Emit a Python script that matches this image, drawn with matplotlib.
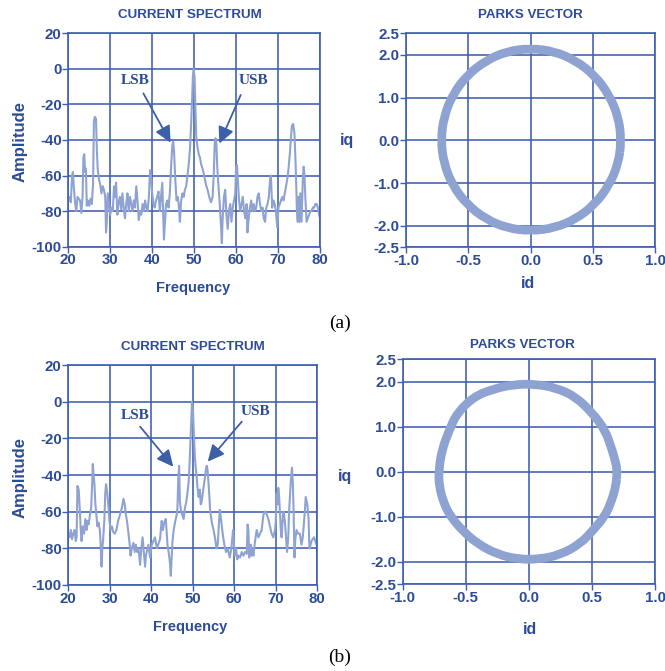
import matplotlib
matplotlib.use("Agg")
import matplotlib.pyplot as plt
from matplotlib.path import Path
from matplotlib.patches import PathPatch

# ---------------- data ----------------
freq_a = [20.0, 20.3, 20.6, 20.9, 21.1, 21.3, 21.6, 21.9, 22.2, 22.5, 22.8, 23.1, 23.4, 23.6, 23.8, 24.0,
          24.2, 24.4, 24.7, 25.0, 25.3, 25.6, 25.9, 26.1, 26.3, 26.6, 26.8, 27.0, 27.3, 27.6, 27.9, 28.2,
          28.5, 28.8, 29.0, 29.2, 29.4, 29.7, 30.0, 30.3, 30.6, 30.9, 31.1, 31.4, 31.7, 32.0, 32.3, 32.6,
          32.9, 33.2, 33.5, 33.8, 34.1, 34.4, 34.7, 35.0, 35.3, 35.6, 35.9, 36.2, 36.5, 36.8, 37.1, 37.4,
          37.7, 38.0, 38.3, 38.6, 38.9, 39.2, 39.5, 39.7, 40.0, 40.3, 40.6, 40.9, 41.2, 41.5, 41.8, 42.1,
          42.4, 42.6, 42.8, 43.0, 43.3, 43.6, 43.9, 44.2, 44.5, 44.8, 45.0, 45.2, 45.5, 45.8, 46.1, 46.4,
          46.6, 46.9, 47.2, 47.5, 47.8, 48.1, 48.4, 48.7, 49.0, 49.3, 49.5, 49.7, 49.9, 50.1, 50.3, 50.5,
          50.8, 51.1, 51.4, 51.7, 52.0, 52.4, 52.8, 53.2, 53.6, 54.0, 54.4, 54.7, 54.9, 55.1, 55.3, 55.5,
          55.8, 56.1, 56.4, 56.6, 56.8, 57.1, 57.4, 57.7, 58.0, 58.3, 58.6, 58.9, 59.2, 59.5, 59.8, 60.0,
          60.2, 60.4, 60.7, 61.0, 61.3, 61.6, 61.9, 62.2, 62.5, 62.7, 63.0, 63.3, 63.6, 63.9, 64.2, 64.5,
          64.8, 65.1, 65.4, 65.7, 66.0, 66.3, 66.6, 66.9, 67.2, 67.5, 67.8, 68.1, 68.3, 68.6, 68.9, 69.2,
          69.5, 69.8, 70.1, 70.4, 70.7, 71.0, 71.3, 71.6, 71.9, 72.2, 72.5, 72.8, 73.1, 73.3, 73.6, 73.9,
          74.1, 74.3, 74.5, 74.7, 74.9, 75.1, 75.3, 75.6, 75.9, 76.1, 76.3, 76.5, 76.8, 77.1, 77.4, 77.7,
          78.0, 78.3, 78.6, 78.9, 79.2, 79.5, 79.8, 80.0]
amp_a = [-74, -72, -75, -60, -58, -66, -75, -80, -72, -73, -74, -81, -72, -50, -48, -58,
         -56, -77, -74, -77, -73, -76, -65, -30, -27, -28, -45, -56, -62, -65, -70, -66,
         -68, -72, -92, -85, -70, -76, -82, -78, -80, -66, -72, -64, -82, -75, -72, -79,
         -70, -78, -84, -76, -70, -80, -72, -76, -80, -74, -78, -66, -74, -85, -80, -82,
         -76, -80, -74, -78, -80, -72, -57, -60, -70, -76, -78, -74, -72, -69, -80, -72,
         -64, -80, -96, -88, -76, -74, -78, -70, -55, -43, -41, -46, -62, -74, -72, -78,
         -86, -74, -70, -72, -68, -66, -60, -54, -45, -30, -18, -4, 0, -5, -22, -38,
         -44, -48, -50, -54, -56, -60, -65, -68, -72, -75, -72, -58, -42, -39, -42, -55,
         -66, -76, -88, -98, -84, -72, -68, -82, -90, -80, -76, -86, -78, -74, -70, -55,
         -54, -62, -74, -80, -76, -72, -80, -84, -76, -92, -84, -78, -74, -80, -76, -80,
         -78, -72, -70, -76, -80, -78, -84, -86, -78, -76, -72, -62, -60, -78, -74, -76,
         -80, -89, -78, -76, -74, -72, -74, -70, -66, -62, -56, -48, -38, -32, -31, -36,
         -48, -62, -80, -86, -72, -86, -70, -86, -62, -55, -60, -72, -86, -84, -82, -80,
         -80, -78, -78, -76, -76, -78, -82, -84]

freq_b = [20.0, 20.3, 20.6, 20.9, 21.2, 21.5, 21.8, 22.0, 22.2, 22.5, 22.8, 23.0, 23.2, 23.5, 23.8, 24.1,
          24.4, 24.6, 24.9, 25.2, 25.5, 25.7, 25.9, 26.1, 26.3, 26.5, 26.7, 27.0, 27.3, 27.6, 27.8, 28.0,
          28.2, 28.4, 28.7, 28.9, 29.1, 29.4, 29.7, 29.9, 30.2, 30.5, 30.8, 31.2, 31.6, 32.0, 32.4, 32.9,
          33.3, 33.6, 33.9, 34.2, 34.5, 34.8, 35.0, 35.3, 35.7, 36.0, 36.3, 36.6, 36.9, 37.1, 37.3, 37.6,
          37.9, 38.2, 38.5, 38.7, 38.9, 39.3, 39.7, 40.1, 40.5, 40.9, 41.2, 41.4, 41.8, 42.1, 42.5, 42.8,
          43.1, 43.5, 43.9, 44.3, 44.5, 44.7, 44.9, 45.1, 45.4, 45.7, 46.1, 46.3, 46.5, 46.7, 46.9, 47.2,
          47.5, 47.8, 48.1, 48.4, 48.7, 49.0, 49.2, 49.4, 49.6, 49.8, 50.0, 50.1, 50.3, 50.5, 50.7, 50.9,
          51.1, 51.4, 51.7, 51.9, 52.1, 52.4, 52.7, 53.0, 53.2, 53.4, 53.6, 53.8, 54.0, 54.2, 54.6, 55.0,
          55.4, 55.7, 56.0, 56.3, 56.5, 56.8, 57.2, 57.6, 58.0, 58.4, 58.9, 59.3, 59.7, 60.1, 60.4, 60.7,
          61.0, 61.4, 61.8, 62.2, 62.6, 63.0, 63.2, 63.4, 63.6, 63.8, 64.0, 64.2, 64.4, 64.6, 65.0, 65.4,
          65.8, 66.2, 66.6, 67.0, 67.3, 67.6, 67.9, 68.2, 68.6, 69.0, 69.4, 69.8, 70.0, 70.2, 70.4, 70.6,
          70.8, 71.0, 71.2, 71.4, 71.6, 71.8, 72.0, 72.2, 72.5, 72.7, 73.0, 73.2, 73.4, 73.6, 73.9, 74.1,
          74.3, 74.5, 74.7, 75.0, 75.4, 75.8, 76.2, 76.5, 76.8, 77.0, 77.2, 77.4, 77.6, 77.9, 78.1, 78.4,
          78.6, 78.9, 79.2, 79.5, 79.8, 80.0]
amp_b = [-72, -74, -70, -75, -72, -70, -76, -74, -46, -48, -60, -70, -76, -68, -72, -64,
         -70, -65, -67, -62, -58, -48, -34, -40, -45, -55, -60, -68, -66, -70, -78, -90,
         -80, -75, -64, -50, -45, -50, -58, -65, -70, -68, -71, -72, -70, -65, -62, -58,
         -53, -56, -62, -66, -72, -78, -84, -80, -77, -82, -78, -82, -80, -84, -89, -80,
         -74, -82, -90, -84, -82, -78, -85, -78, -76, -74, -78, -80, -77, -75, -65, -70,
         -66, -64, -78, -84, -88, -95, -86, -76, -70, -66, -62, -58, -42, -35, -55, -60,
         -62, -64, -58, -55, -50, -44, -35, -24, -12, 0, -4, -8, -20, -30, -36, -40,
         -46, -52, -48, -56, -55, -50, -45, -40, -36, -35, -38, -45, -52, -60, -66, -70,
         -75, -80, -78, -66, -59, -64, -72, -78, -82, -80, -85, -80, -70, -84, -80, -86,
         -84, -85, -82, -84, -82, -83, -67, -70, -85, -80, -78, -84, -80, -84, -76, -70,
         -74, -72, -70, -62, -60, -60, -62, -64, -68, -72, -74, -70, -65, -50, -56, -47,
         -52, -60, -70, -74, -66, -60, -62, -66, -75, -82, -74, -60, -52, -44, -36, -44,
         -60, -85, -75, -70, -72, -72, -78, -74, -66, -60, -52, -54, -56, -64, -80, -78,
         -76, -75, -74, -76, -78, -77]

# Parks vector loops (control points read around the trace)
id_a = [0.73, 0.705, 0.63, 0.515, 0.365, 0.19, 0.0, -0.19, -0.36, -0.51, -0.625, -0.695,
        -0.72, -0.695, -0.625, -0.51, -0.36, -0.19, 0.0, 0.19, 0.365, 0.515, 0.63, 0.705]
iq_a = [0.0, 0.56, 1.07, 1.52, 1.86, 2.08, 2.15, 2.08, 1.86, 1.52, 1.07, 0.56,
        0.0, -0.55, -1.06, -1.50, -1.84, -2.05, -2.12, -2.05, -1.84, -1.50, -1.06, -0.55]

id_b = [0.70, 0.69, 0.66, 0.605, 0.505, 0.37, 0.22, 0.05, -0.12, -0.28, -0.435, -0.57,
        -0.63, -0.69, -0.715, -0.71, -0.675, -0.62, -0.53, -0.41, -0.25, -0.08, 0.08, 0.25,
        0.41, 0.51, 0.60, 0.65, 0.69]
iq_b = [0.0, 0.19, 0.48, 0.93, 1.30, 1.67, 1.86, 1.95, 1.94, 1.84, 1.67, 1.30,
        0.93, 0.48, 0.0, -0.33, -0.70, -1.0, -1.30, -1.60, -1.84, -1.95, -1.95, -1.85,
        -1.60, -1.30, -1.0, -0.70, -0.33]

spec_xticks = [20, 30, 40, 50, 60, 70, 80]
spec_yticks = [20, 0, -20, -40, -60, -80, -100]
park_xticks = [-1.0, -0.5, 0.0, 0.5, 1.0]
park_yticks = [2.5, 2.0, 1.0, 0.0, -1.0, -2.0, -2.5]

# annotations: (text x, text y, tail x, tail y, tip x, tip y)
ann_a = {"LSB": (35.9, -6.3, 37.9, -13.8, 44.4, -41.5),
         "USB": (64.1, -6.3, 61.1, -14.7, 56.0, -42.0)}
ann_b = {"LSB": (36.1, -7.3, 37.3, -13.6, 45.3, -35.5),
         "USB": (65.0, -5.5, 61.8, -10.9, 53.6, -32.7)}

# ---------------- style ----------------
W, H = 665, 671
DARK = "#2c4b98"
GRID = "#3d5eb2"
LINE = "#8ea3d2"
SANS = ["Liberation Sans", "DejaVu Sans"]
SERIF = ["Liberation Serif", "DejaVu Serif"]

fig = plt.figure(figsize=(W / 100, H / 100), dpi=100)
fig.patch.set_facecolor("white")


def px_axes(l, r, t, b):
    return fig.add_axes([l / W, 1 - b / H, (r - l) / W, (b - t) / H])


def style_axes(ax):
    for s in ax.spines.values():
        s.set_color(GRID)
        s.set_linewidth(1.2)
    ax.grid(True, color=GRID, linewidth=1.15)
    ax.set_axisbelow(True)
    ax.tick_params(axis="both", direction="out", length=4, width=1.0, color=GRID,
                   labelcolor=DARK, labelsize=10.8, pad=0.8)
    for lab in ax.get_xticklabels() + ax.get_yticklabels():
        lab.set_fontweight("bold")
        lab.set_family(SANS)


def fig_text(x, y, s, **kw):
    fig.text(x / W, 1 - y / H, s, ha="center", va="center", **kw)


def spectrum(ax, f, a, ann):
    ax.plot(f, a, color=LINE, linewidth=1.5)
    ax.set_xlim(20, 80)
    ax.set_ylim(-100, 20)
    ax.set_xticks(spec_xticks)
    ax.set_yticks(spec_yticks)
    ax.set_xticklabels([str(v) for v in spec_xticks])
    ax.set_yticklabels([str(v) for v in spec_yticks])
    style_axes(ax)
    for name, (tx, ty, ax0, ay0, ax1, ay1) in ann.items():
        ax.text(tx, ty, name, ha="center", va="center", fontsize=11, fontweight="bold",
                family=SERIF, color=DARK)
        ax.annotate("", xy=(ax1, ay1), xytext=(ax0, ay0),
                    arrowprops=dict(arrowstyle="-|>,head_length=0.62,head_width=0.3",
                                    mutation_scale=16, color="#3d5ea8", lw=1.3,
                                    shrinkA=0, shrinkB=0))


def parks(ax, x, y):
    # smooth closed quadratic B-spline through the control points, drawn by matplotlib's Path
    n = len(x)
    mids = [((x[i] + x[(i + 1) % n]) / 2, (y[i] + y[(i + 1) % n]) / 2) for i in range(n)]
    verts = [mids[-1]]
    codes = [Path.MOVETO]
    for i in range(n):
        verts += [(x[i], y[i]), mids[i]]
        codes += [Path.CURVE3, Path.CURVE3]
    patch = PathPatch(Path(verts, codes), facecolor="none", edgecolor=LINE, linewidth=6.3,
                      joinstyle="round", zorder=3)
    ax.add_patch(patch)
    ax.set_xlim(-1.0, 1.0)
    ax.set_ylim(-2.5, 2.5)
    ax.set_xticks(park_xticks)
    ax.set_yticks(park_yticks)
    ax.set_xticklabels([f"{v:.1f}" for v in park_xticks])
    ax.set_yticklabels([f"{v:.1f}" for v in park_yticks])
    style_axes(ax)


# ---- (a) ----
ax1 = px_axes(68.3, 320, 33.3, 246.7)
spectrum(ax1, freq_a, amp_a, ann_a)
ax2 = px_axes(406, 655, 33.3, 247.3)
parks(ax2, id_a, iq_a)

# ---- (b) ----
ax3 = px_axes(68.3, 317.3, 365, 585)
spectrum(ax3, freq_b, amp_b, ann_b)
ax4 = px_axes(402.7, 655, 359.3, 584)
parks(ax4, id_b, iq_b)

tkw = dict(fontweight="bold", color=DARK, family=SANS)
fig_text(190, 15, "CURRENT SPECTRUM", fontsize=9.6, **tkw)
fig_text(530, 15, "PARKS VECTOR", fontsize=9.6, **tkw)
fig_text(20, 141, "Amplitude", fontsize=12, rotation=90, **tkw)
fig_text(193, 288, "Frequency", fontsize=10.5, **tkw)
fig_text(347, 140, "iq", fontsize=11.5, **tkw)
fig_text(528, 284, "id", fontsize=11.5, **tkw)
fig_text(340, 323, "(a)", fontsize=14, family=SERIF, color="black")

fig_text(193, 347, "CURRENT SPECTRUM", fontsize=9.6, **tkw)
fig_text(522, 345, "PARKS VECTOR", fontsize=9.6, **tkw)
fig_text(20, 477, "Amplitude", fontsize=12, rotation=90, **tkw)
fig_text(190, 627, "Frequency", fontsize=10.5, **tkw)
fig_text(345, 477, "iq", fontsize=11.5, **tkw)
fig_text(530, 630, "id", fontsize=11.5, **tkw)
fig_text(340, 657, "(b)", fontsize=14, family=SERIF, color="black")

fig.savefig("out.png", dpi=100, facecolor="white")
